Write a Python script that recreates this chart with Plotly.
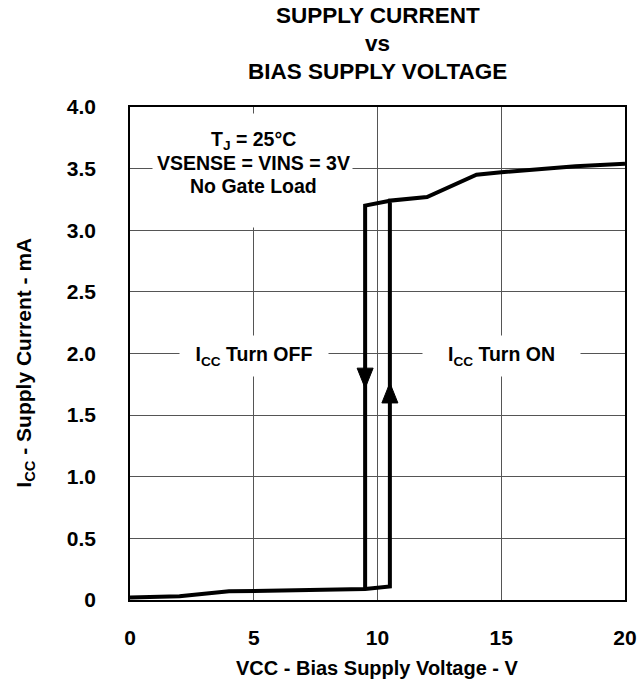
import plotly.graph_objects as go

# ---- data ----
on_v = [0, 2, 4, 7.3, 9.5, 10.5, 10.5, 12, 14, 15, 17, 18, 20]
on_i = [0.02, 0.03, 0.07, 0.08, 0.09, 0.11, 3.24, 3.27, 3.45, 3.47, 3.50, 3.52, 3.54]
off_v = [10.5, 9.5, 9.5]
off_i = [3.24, 3.20, 0.09]
arrow_v = [9.5, 10.5]
arrow_i = [1.80, 1.68]
arrow_dir = ["down", "up"]

x_ticks = [0, 5, 10, 15, 20]
x_ticktext = ["0", "5", "10", "15", "20"]
y_ticks = [0, 0.5, 1.0, 1.5, 2.0, 2.5, 3.0, 3.5, 4.0]
y_ticktext = ["0", "0.5", "1.0", "1.5", "2.0", "2.5", "3.0", "3.5", "4.0"]

title_lines = ["SUPPLY CURRENT", "vs", "BIAS SUPPLY VOLTAGE"]
cond_lines = ["T<sub>J</sub> = 25°C", "VSENSE = VINS = 3V", "No Gate Load"]

FONT = "Liberation Sans, Arial, Helvetica, sans-serif"

fig = go.Figure()
fig.add_trace(go.Scatter(x=on_v, y=on_i, mode="lines",
                         line=dict(color="black", width=4), showlegend=False,
                         hoverinfo="skip"))
fig.add_trace(go.Scatter(x=off_v, y=off_i, mode="lines",
                         line=dict(color="black", width=4), showlegend=False,
                         hoverinfo="skip"))

shapes = []
for v, i, d in zip(arrow_v, arrow_i, arrow_dir):
    path = "M-8,10 L8,10 L0,-10 Z" if d == "down" else "M-8,-10 L8,-10 L0,10 Z"
    shapes.append(dict(type="path", xref="x", yref="y",
                       xsizemode="pixel", ysizemode="pixel",
                       xanchor=v, yanchor=i, path=path,
                       fillcolor="black", line=dict(color="black", width=1)))
# white backdrop behind the test-condition text (masks grid lines)
shapes.append(dict(type="rect", xref="x", yref="y", xsizemode="pixel", ysizemode="pixel",
                   xanchor=4.95, yanchor=3.485, x0=-100, x1=100, y0=-57, y1=57,
                   fillcolor="white", line=dict(width=0), layer="above"))

annotations = []
# title lines
for txt, yp in zip(title_lines, [1.1866, 1.1278, 1.0710]):
    annotations.append(dict(text="<b>%s</b>" % txt, xref="paper", yref="paper",
                            x=0.5, y=yp, xanchor="center", yanchor="middle",
                            showarrow=False, font=dict(family=FONT, size=22.5, color="black")))
for txt, yv in zip(cond_lines, [3.728, 3.545, 3.359]):
    annotations.append(dict(text="<b>%s</b>" % txt, xref="x", yref="y", x=5, y=yv,
                            xanchor="center", yanchor="middle", showarrow=False,
                            font=dict(family=FONT, size=19.5, color="black")))
annotations.append(dict(text="<b>I<sub>CC</sub> Turn OFF</b>", xref="x", yref="y", x=5.0, y=1.98,
                        xanchor="center", yanchor="middle", showarrow=False, bgcolor="white",
                        borderpad=0, width=148, height=40,
                        font=dict(family=FONT, size=19.5, color="black")))
annotations.append(dict(text="<b>I<sub>CC</sub> Turn ON</b>", xref="x", yref="y", x=15, y=1.98,
                        xanchor="center", yanchor="middle", showarrow=False, bgcolor="white",
                        borderpad=0, width=157, height=40,
                        font=dict(family=FONT, size=19.5, color="black")))
# axis titles
annotations.append(dict(text="<b>VCC - Bias Supply Voltage - V</b>", xref="paper", yref="paper",
                        x=0.5, y=-0.138, xanchor="center", yanchor="middle", showarrow=False,
                        font=dict(family=FONT, size=20, color="black")))
annotations.append(dict(text="<b>I<sub>CC</sub> - Supply Current - mA</b>", xref="paper", yref="paper",
                        x=-0.2126, y=0.481, xanchor="center", yanchor="middle", showarrow=False,
                        textangle=-90, font=dict(family=FONT, size=21, color="black")))

axis_common = dict(showline=True, mirror=True, linecolor="black", linewidth=1.5,
                   showgrid=True, gridcolor="#555555", gridwidth=1, zeroline=False,
                   ticks="", fixedrange=True, automargin=False)

fig.update_layout(
    width=637, height=681,
    margin=dict(l=130, r=12, t=107, b=81, pad=0, autoexpand=False),
    paper_bgcolor="white", plot_bgcolor="white",
    font=dict(family=FONT, color="black"),
    xaxis=dict(range=[0, 20], tickvals=x_ticks, ticktext=x_ticktext,
               tickfont=dict(family=FONT, size=21, color="black", weight="bold"),
               ticklabelstandoff=18, **axis_common),
    yaxis=dict(range=[0, 4], tickvals=y_ticks, ticktext=y_ticktext,
               tickfont=dict(family=FONT, size=21, color="black", weight="bold"),
               ticklabelstandoff=28, **axis_common),
    shapes=shapes,
    annotations=annotations,
    showlegend=False,
)

fig.write_html("out.html", config={"displayModeBar": False},
               post_script="document.body.style.margin='0';document.body.style.padding='0';")
